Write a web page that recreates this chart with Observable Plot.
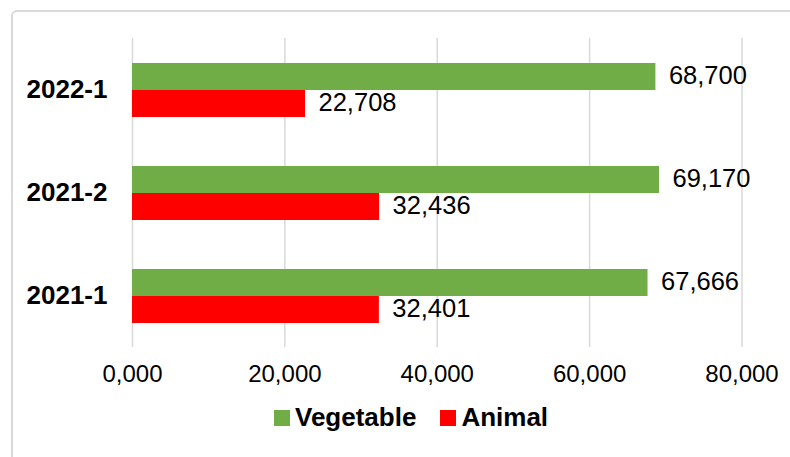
<!DOCTYPE html>
<html>
<head>
<meta charset="utf-8">
<script src="https://cdn.jsdelivr.net/npm/d3@7"></script>
<script src="https://cdn.jsdelivr.net/npm/@observablehq/plot@0.6"></script>
<style>
  html, body { margin: 0; padding: 0; background: #fff; overflow: hidden; }
  #wrap { position: relative; width: 790px; height: 457px; overflow: hidden; font-family: "Liberation Sans", Arial, sans-serif; }
  #border { position: absolute; left: 11px; top: 10px; width: 800px; height: 470px; border: 2px solid #d9d9d9; border-radius: 6px; box-sizing: border-box; }
  #chart { position: absolute; left: 0; top: 0; }
  #legend { position: absolute; left: 274px; top: 402px; display: flex; align-items: center; font-weight: bold; font-size: 26px; color: #000; white-space: nowrap; }
  .sw { display: inline-block; width: 16px; height: 16px; margin-right: 5px; }
  .item { display: flex; align-items: center; }
</style>
</head>
<body>
<div id="wrap">
  <div id="border"></div>
  <div id="chart"></div>
  <div id="legend"></div>
</div>
<script>
const periods = ["2022-1", "2021-2", "2021-1"];
const vegetable = [68700, 69170, 67666];
const animal = [22708, 32436, 32401];
const series = ["Vegetable", "Animal"];
const colors = ["#70AD47", "#FF0000"];
const xTicks = [0, 20000, 40000, 60000, 80000];
const xTickLabels = ["0,000", "20,000", "40,000", "60,000", "80,000"];

const rows = [];
periods.forEach((p, i) => {
  rows.push({period: p, series: "Vegetable", value: vegetable[i]});
  rows.push({period: p, series: "Animal", value: animal[i]});
});
const fmt = d3.format(",");

const chart = Plot.plot({
  width: 790,
  height: 400,
  marginTop: 37,
  marginBottom: 53,
  marginLeft: 132,
  marginRight: 48.5,
  style: {fontFamily: "'Liberation Sans', Arial, sans-serif", color: "#000", background: "transparent"},
  x: {domain: [0, 80000]},
  fy: {domain: periods, padding: 0, label: null},
  y: {domain: series, paddingInner: 0, paddingOuter: 0.845, axis: null},
  color: {domain: series, range: colors},
  marks: [
    Plot.ruleX(xTicks, {stroke: "#d9d9d9", strokeWidth: 1.5}),
    Plot.barX(rows, {x: "value", y: "series", fy: "period", fill: "series"}),
    Plot.text(rows, {x: "value", y: "series", fy: "period", text: d => fmt(d.value), textAnchor: "start", dx: 13, dy: -1, fontSize: 25.5, fill: "#000"}),
    Plot.axisX({ticks: xTicks, tickFormat: d => xTickLabels[xTicks.indexOf(d)], tickSize: 0, tickPadding: 17, fontSize: 24, label: null}),
    Plot.axisFy({anchor: "left", tickSize: 0, tickPadding: 25, fontSize: 26, fontWeight: "bold", label: null})
  ]
});
document.getElementById("chart").appendChild(chart);

const legend = document.getElementById("legend");
series.forEach((s, i) => {
  const item = document.createElement("div");
  item.className = "item";
  item.style.marginRight = i === 0 ? "24px" : "0";
  const sw = document.createElement("span");
  sw.className = "sw";
  sw.style.background = colors[i];
  const t = document.createElement("span");
  t.textContent = s;
  item.appendChild(sw);
  item.appendChild(t);
  legend.appendChild(item);
});
</script>
</body>
</html>
